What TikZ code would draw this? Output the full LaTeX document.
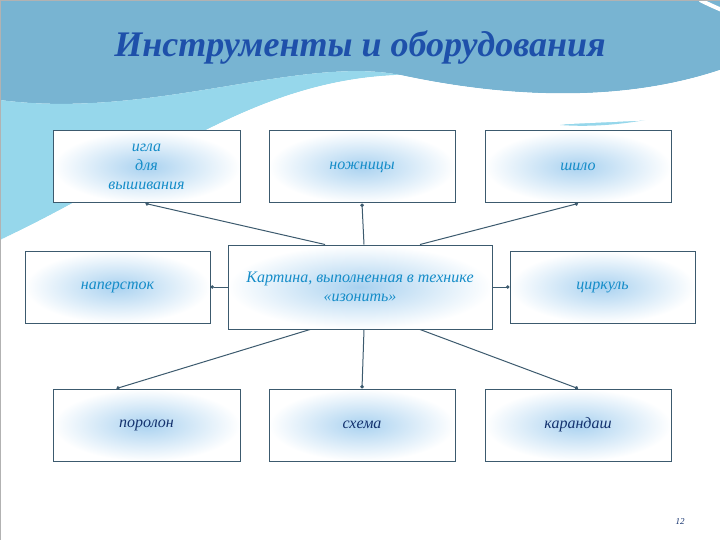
\documentclass[tikz,border=0pt]{standalone}
\usepackage{fontspec}
\setmainfont{Liberation Serif}
\usetikzlibrary{arrows.meta}
\definecolor{hdr}{RGB}{120,180,210}
\definecolor{hdrl}{RGB}{150,215,235}
\definecolor{boxin}{RGB}{170,210,240}
\definecolor{boxed}{RGB}{60,90,110}
\definecolor{txt}{RGB}{20,140,200}
\definecolor{dtxt}{RGB}{20,50,110}
\definecolor{ttl}{RGB}{30,80,170}
\tikzset{
 box/.style={draw=boxed, line width=1pt, inner color=boxin, outer color=white},
 lbl/.style={font=\itshape\fontsize{16}{19}\selectfont, text=txt, align=center},
 dlbl/.style={font=\itshape\fontsize{16}{19}\selectfont, text=dtxt, align=center},
 con/.style={draw=boxed, line width=1pt, -{Circle[length=3.5pt]}}
}
\begin{document}
\begin{tikzpicture}[x=1pt,y=-1pt]
\useasboundingbox (0,0) rectangle (720,540);
\fill[white] (0,0) rectangle (720,540);
% header waves
\fill[hdr] (0,0) -- (720,0) -- (720,70) .. controls (600,110) and (470,90) .. (400,75) .. controls (300,55) and (150,120) .. (0,100) -- cycle;
\fill[hdrl] (0,100) .. controls (150,120) and (300,55) .. (400,75) .. controls (250,80) and (150,170) .. (0,240) -- cycle;
\fill[hdrl] (720,70) .. controls (660,100) and (600,120) .. (560,125) .. controls (630,130) and (690,110) .. (720,100) -- cycle;
\fill[white] (0,240) .. controls (150,170) and (250,80) .. (400,75) .. controls (470,90) and (600,110) .. (720,70) -- (720,115) .. controls (600,130) and (300,110) .. (0,240) -- cycle;
\draw[white, line width=4pt] (700,0) .. controls (740,20) and (800,40) .. (840,30);
\draw[gray!60, line width=0.5pt] (0,0) rectangle (720,540);
\node[font=\itshape\bfseries\fontsize{36}{40}\selectfont, text=ttl] (title) at (360,48) {Инструменты и оборудования};
% boxes
\node[box, minimum width=187pt, minimum height=72pt] (igla) at (146.5,167) {};
\node[lbl] at (igla) {игла\\для\\вышивания};
\node[box, minimum width=186pt, minimum height=72pt] (nozh) at (362,167) {};
\node[lbl] at (nozh) {ножницы};
\node[box, minimum width=186pt, minimum height=72pt] (shilo) at (578,167) {};
\node[lbl] at (shilo) {шило};
\node[box, minimum width=185pt, minimum height=72pt] (nap) at (117.5,287) {};
\node[lbl] at (nap) {наперсток};
\node[box, minimum width=264pt, minimum height=84pt] (main) at (360,287) {};
\node[lbl] at (main) {Картина, выполненная в технике\\«изонить»};
\node[box, minimum width=185pt, minimum height=72pt] (tsir) at (602.5,287) {};
\node[lbl] at (tsir) {циркуль};
\node[box, minimum width=187pt, minimum height=72pt] (porol) at (146.5,425) {};
\node[dlbl] at (porol) {поролон};
\node[box, minimum width=186pt, minimum height=72pt] (skh) at (362,425) {};
\node[dlbl] at (skh) {схема};
\node[box, minimum width=186pt, minimum height=72pt] (kar) at (578,425) {};
\node[dlbl] at (kar) {карандаш};
% connectors
\path[con] ([xshift=-35pt]main.north) -- ([xshift=-1pt]igla.south);
\path[con] ([xshift=4pt]main.north) -- (nozh.south);
\path[con] ([xshift=60pt]main.north) -- (shilo.south);
\path[con] (main.west) -- (nap.east);
\path[con] (main.east) -- (tsir.west);
\path[con] ([xshift=-50pt]main.south) -- ([xshift=-30pt]porol.north);
\path[con] ([xshift=4pt]main.south) -- (skh.north);
\path[con] ([xshift=60pt]main.south) -- (kar.north);
\node[font=\small\itshape, text=dtxt] (pg) at (680,522) {12};
\end{tikzpicture}
\end{document}
